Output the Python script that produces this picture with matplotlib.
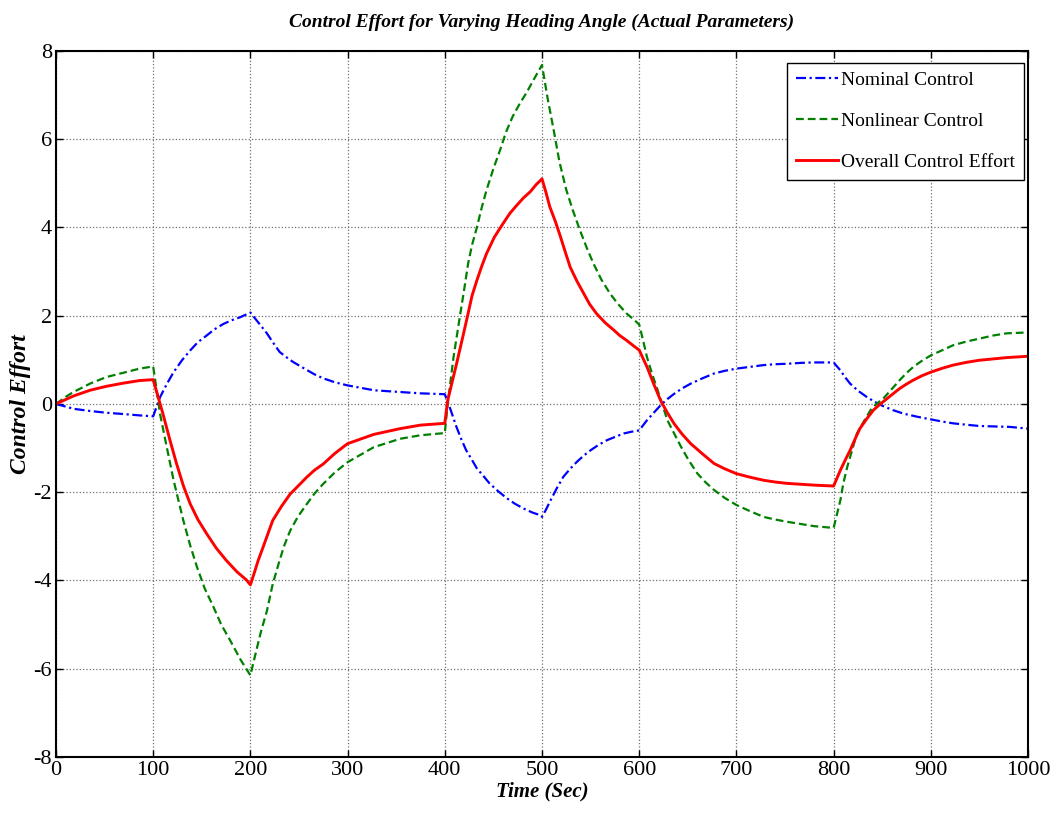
import numpy as np
import matplotlib
matplotlib.use("Agg")
from matplotlib import pyplot as plt

# (time [sec], control) samples for each signal
nominal = [(0, 0), (10, -0.06), (18, -0.11), (35, -0.16), (52, -0.2), (70, -0.23),
           (86, -0.26), (100, -0.28), (107, 0.15), (114, 0.45), (121, 0.72),
           (130, 1.0), (138, 1.21), (146, 1.4), (155, 1.55), (163, 1.69),
           (172, 1.81), (180, 1.89), (189, 1.96), (200, 2.07), (208, 1.85),
           (217, 1.6), (223, 1.4), (230, 1.18), (237, 1.06), (244, 0.95),
           (251, 0.86), (258, 0.77), (266, 0.67), (275, 0.58), (287, 0.49),
           (300, 0.42), (327, 0.31), (354, 0.27), (375, 0.24), (400, 0.22),
           (405, -0.07), (412, -0.52), (417, -0.8), (422, -1.05), (428, -1.27),
           (433, -1.46), (440, -1.64), (446, -1.8), (455, -1.98), (464, -2.14),
           (472, -2.26), (481, -2.37), (490, -2.46), (498, -2.52), (500, -2.56),
           (504, -2.4), (508, -2.22), (515, -1.92), (522, -1.65), (529, -1.47),
           (536, -1.31), (543, -1.17), (550, -1.05), (558, -0.93), (567, -0.82),
           (576, -0.74), (584, -0.67), (592, -0.63), (600, -0.6), (608, -0.37),
           (615, -0.2), (622, -0.03), (629, 0.11), (636, 0.23), (644, 0.35),
           (653, 0.46), (665, 0.58), (677, 0.69), (688, 0.75), (700, 0.8),
           (714, 0.84), (728, 0.88), (740, 0.9), (752, 0.91), (766, 0.93),
           (780, 0.94), (790, 0.94), (800, 0.94), (807, 0.76), (812, 0.6),
           (817, 0.46), (825, 0.3), (834, 0.16), (842, 0.05), (851, -0.05),
           (861, -0.14), (872, -0.22), (886, -0.29), (900, -0.35), (912, -0.4),
           (923, -0.44), (936, -0.47), (950, -0.5), (965, -0.51), (981, -0.52),
           (1000, -0.56)]

nonlinear = [(0, 0), (10, 0.16), (18, 0.27), (35, 0.46), (52, 0.61), (70, 0.71),
             (86, 0.8), (100, 0.85), (103, 0.4), (107, -0.22), (114, -0.98),
             (121, -1.73), (131, -2.64), (138, -3.2), (145, -3.69), (153, -4.18),
             (162, -4.6), (170, -5.0), (179, -5.35), (190, -5.8), (200, -6.15),
             (206, -5.6), (211, -5.15), (217, -4.69), (223, -4.08), (230, -3.55),
             (235, -3.2), (241, -2.87), (249, -2.55), (258, -2.27), (266, -2.03),
             (275, -1.81), (287, -1.55), (300, -1.32), (327, -0.98), (354, -0.79),
             (375, -0.71), (400, -0.66), (403, 0.0), (409, 1.06), (416, 2.05),
             (420, 2.6), (424, 3.18), (428, 3.6), (433, 4.0), (438, 4.45),
             (443, 4.85), (450, 5.33), (457, 5.76), (463, 6.16), (470, 6.52),
             (477, 6.8), (484, 7.05), (492, 7.37), (500, 7.68), (506, 6.9),
             (512, 6.21), (518, 5.48), (525, 4.85), (532, 4.37), (539, 3.94),
             (546, 3.54), (553, 3.18), (561, 2.82), (570, 2.5), (578, 2.27),
             (587, 2.05), (594, 1.92), (600, 1.8), (604, 1.44), (608, 1.06),
             (613, 0.7), (619, 0.31), (624, -0.03), (629, -0.37), (636, -0.67),
             (643, -0.97), (651, -1.28), (660, -1.58), (668, -1.77), (677, -1.95),
             (688, -2.13), (700, -2.29), (714, -2.43), (728, -2.56), (740, -2.62),
             (752, -2.67), (766, -2.72), (780, -2.77), (800, -2.81), (807, -2.18),
             (810, -1.8), (814, -1.43), (819, -1.05), (824, -0.67), (831, -0.4),
             (838, -0.14), (844, 0.0), (851, 0.12), (860, 0.34), (868, 0.54),
             (875, 0.7), (882, 0.84), (891, 0.98), (900, 1.1), (912, 1.22),
             (923, 1.33), (936, 1.41), (950, 1.48), (964, 1.55), (978, 1.6),
             (1000, 1.62)]

overall = [(0, 0), (10, 0.1), (18, 0.18), (35, 0.31), (52, 0.4), (69, 0.47),
           (86, 0.53), (100, 0.55), (110, -0.22), (117, -0.8), (124, -1.35),
           (131, -1.85), (138, -2.26), (146, -2.62), (155, -2.94), (165, -3.27),
           (175, -3.54), (186, -3.8), (196, -3.99), (200, -4.1), (203, -3.9),
           (208, -3.55), (213, -3.25), (223, -2.64), (232, -2.32), (241, -2.04),
           (250, -1.84), (258, -1.66), (266, -1.5), (275, -1.36), (287, -1.12),
           (300, -0.9), (327, -0.69), (354, -0.56), (375, -0.48), (400, -0.44),
           (403, 0.08), (412, 0.9), (418, 1.47), (424, 2.05), (428, 2.45),
           (433, 2.8), (438, 3.12), (443, 3.41), (451, 3.78), (460, 4.09),
           (467, 4.32), (474, 4.5), (481, 4.67), (488, 4.81), (494, 4.97),
           (500, 5.1), (504, 4.8), (508, 4.47), (514, 4.12), (519, 3.79),
           (524, 3.44), (529, 3.1), (536, 2.78), (543, 2.5), (549, 2.26),
           (556, 2.05), (565, 1.84), (574, 1.67), (580, 1.55), (587, 1.44),
           (594, 1.32), (600, 1.22), (604, 1.03), (608, 0.84), (615, 0.45),
           (622, 0.08), (629, -0.2), (636, -0.45), (644, -0.68), (653, -0.9),
           (665, -1.13), (677, -1.35), (688, -1.47), (700, -1.58), (714, -1.66),
           (728, -1.73), (740, -1.77), (752, -1.8), (766, -1.82), (780, -1.84),
           (800, -1.86), (807, -1.5), (812, -1.27), (817, -1.05), (822, -0.8),
           (827, -0.56), (834, -0.34), (841, -0.14), (846, -0.04), (851, 0.05),
           (860, 0.21), (868, 0.35), (875, 0.45), (882, 0.54), (891, 0.64),
           (900, 0.72), (912, 0.81), (923, 0.88), (936, 0.94), (950, 0.99),
           (964, 1.02), (978, 1.05), (1000, 1.08)]

labels = ['Nominal Control', 'Nonlinear Control', 'Overall Control Effort']
xticks = list(range(0, 1001, 100))
yticks = list(range(-8, 9, 2))

plt.rcParams['font.family'] = ['Liberation Serif', 'DejaVu Serif']
plt.rcParams['axes.unicode_minus'] = False

fig = plt.figure(figsize=(10.52, 8.21), dpi=100)
ax = fig.add_axes([0.0532, 0.078, 0.924, 0.860])

t, u = np.array(nominal).T
ax.plot(t, u, color='#0000ff', lw=1.6, linestyle=(0, (4.5, 1.6, 1.0, 1.6)),
        label=labels[0])
t, u = np.array(nonlinear).T
ax.plot(t, u, color='#008000', lw=1.6, linestyle=(0, (3.5, 1.8)),
        label=labels[1])
t, u = np.array(overall).T
ax.plot(t, u, color='#ff0000', lw=2.1, label=labels[2])

ax.set_xlim(0, 1000)
ax.set_ylim(-8, 8)
ax.set_xticks(xticks)
ax.set_yticks(yticks)
ax.grid(True, linestyle=':', color='#707070', lw=0.9)
ax.tick_params(direction='in', length=5, width=1, top=True, right=True,
               labelsize=16, pad=3)
for sp in ax.spines.values():
    sp.set_linewidth(1.5)

ax.set_title('Control Effort for Varying Heading Angle (Actual Parameters)',
             fontsize=14, fontweight='bold', fontstyle='italic', pad=17)
ax.set_xlabel('Time (Sec)', fontsize=15, fontweight='bold', fontstyle='italic',
              labelpad=1)
ax.set_ylabel('Control Effort', fontsize=17, fontweight='bold',
              fontstyle='italic', labelpad=2)

leg = ax.legend(loc='upper right', bbox_to_anchor=(0.996, 0.983),
                borderaxespad=0, fontsize=14, fancybox=False, framealpha=1,
                edgecolor='black', handlelength=2.2, handletextpad=0.15,
                borderpad=0.45, labelspacing=1.2)
leg.get_frame().set_linewidth(1.0)

fig.savefig('out.png', dpi=100)
